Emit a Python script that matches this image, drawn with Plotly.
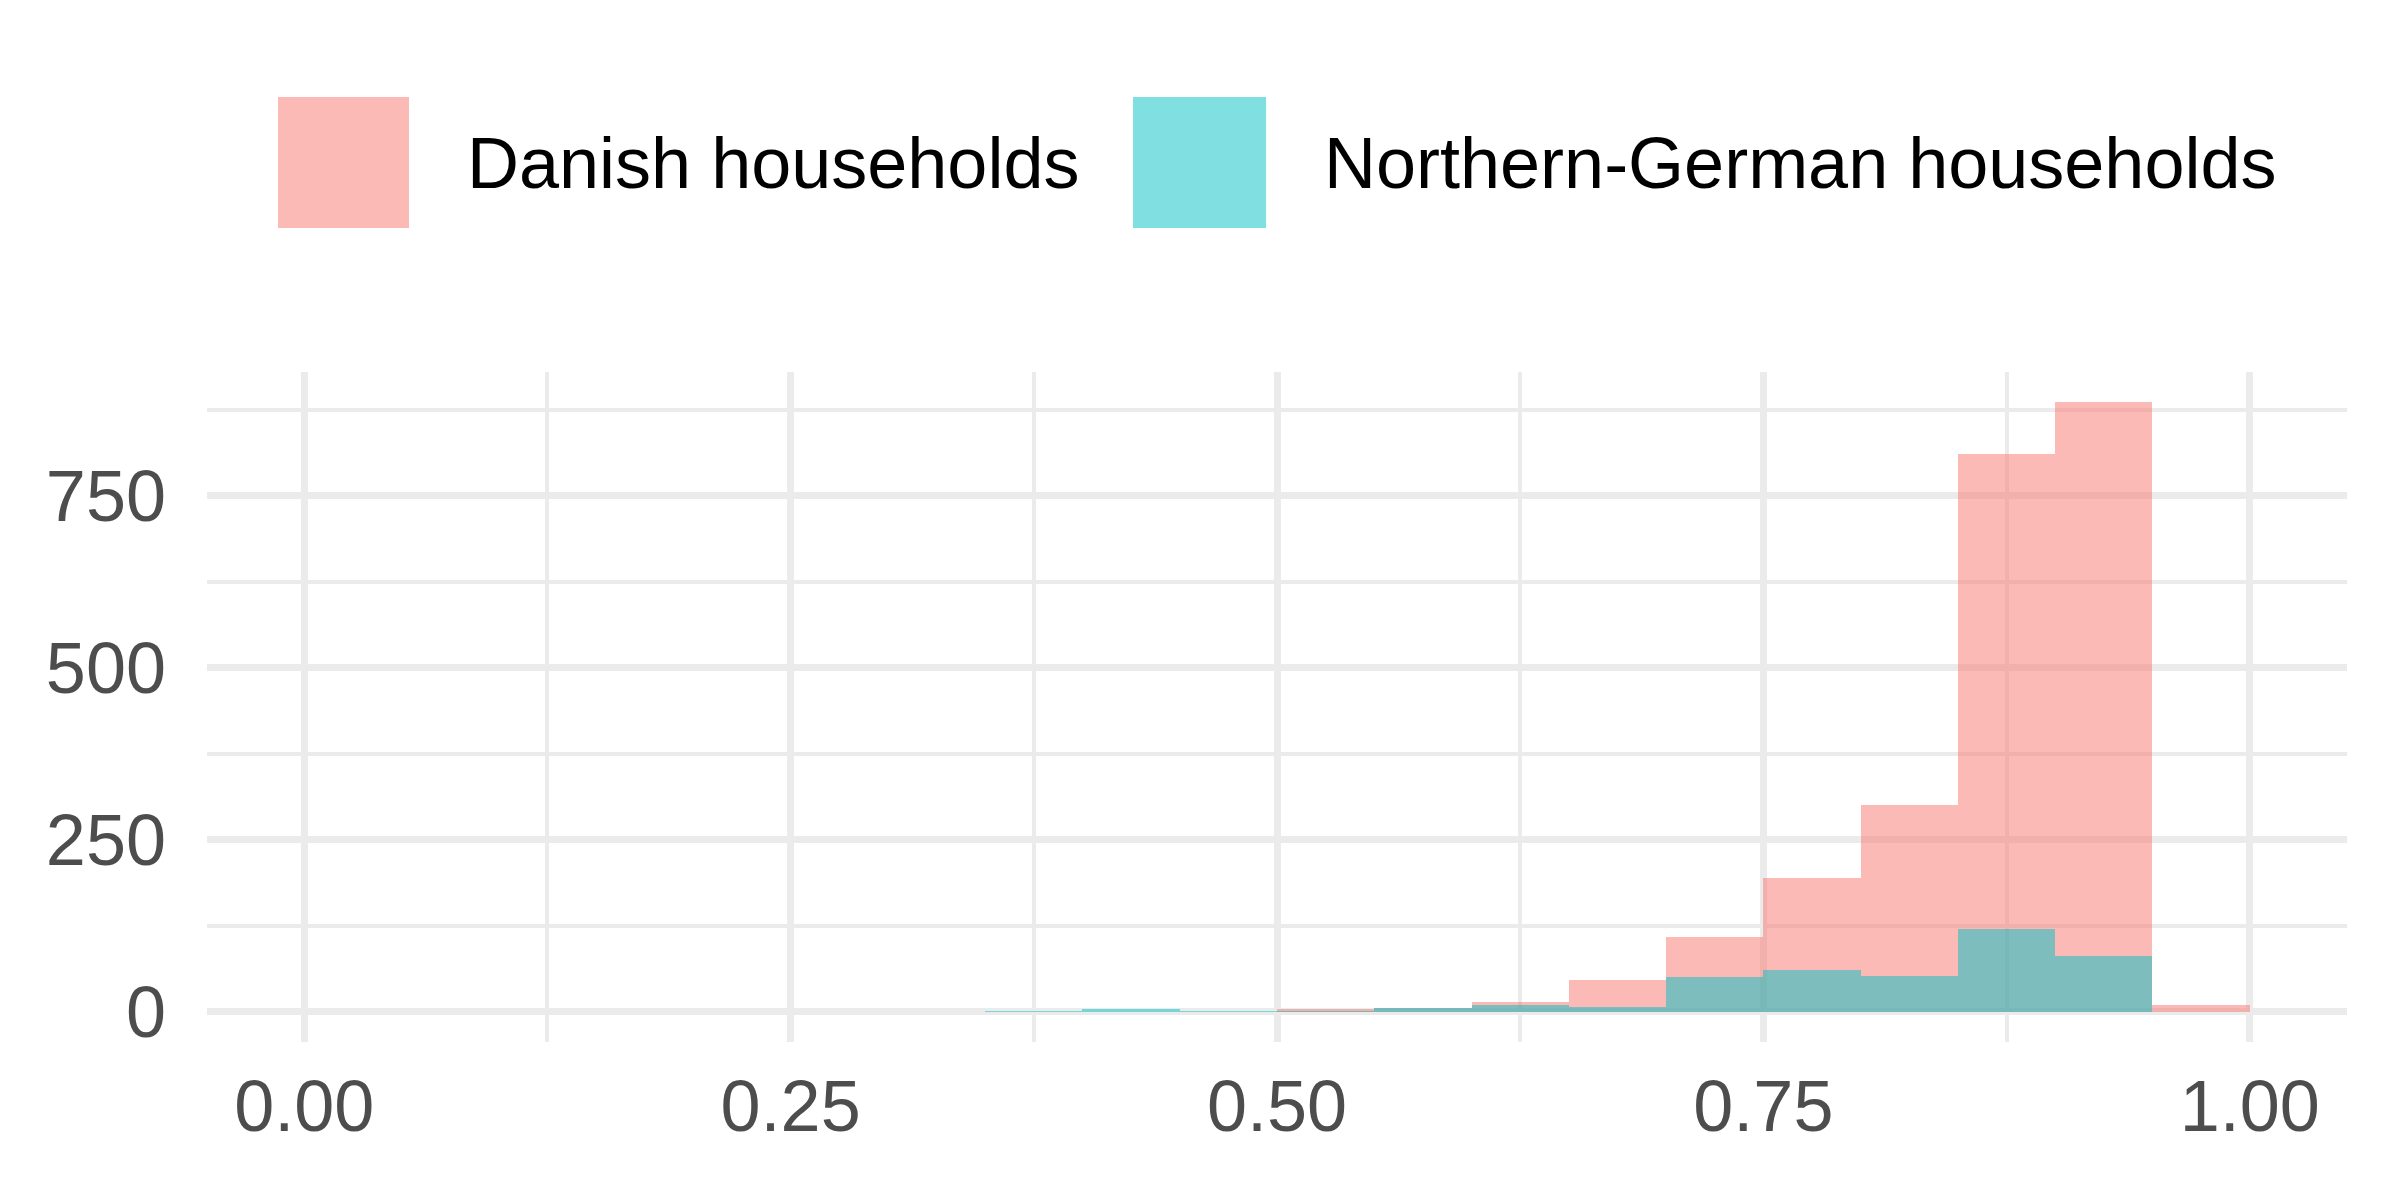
import plotly.graph_objects as go

# ---- data ----
bin_left = [0.35, 0.40, 0.45, 0.50, 0.55, 0.60, 0.65, 0.70, 0.75, 0.80, 0.85, 0.90, 0.95]
bin_width = 0.05
danish = [0, 0, 0, 3, 5, 14, 46, 109, 194, 300, 811, 886, 9]
german = [1, 3, 1, 1, 5, 9, 6, 50, 60, 52, 120, 81, 0]
series_names = ["Danish households", "Northern-German households"]
series_colors = ["rgba(248,118,109,0.5)", "rgba(0,191,196,0.5)"]

x_ticks = [0, 0.25, 0.5, 0.75, 1.0]
x_ticktext = ["0.00", "0.25", "0.50", "0.75", "1.00"]
x_minor = [0.125, 0.375, 0.625, 0.875]
y_ticks = [0, 250, 500, 750]
y_ticktext = ["0", "250", "500", "750"]
y_minor = [125, 375, 625, 875]

FONT = "Liberation Sans, Arial, Helvetica, sans-serif"
GRID = "#EBEBEB"

fig = go.Figure()
for name, vals, col in zip(series_names, [danish, german], series_colors):
    fig.add_trace(go.Bar(
        x=bin_left, y=vals, width=bin_width, offset=0,
        name=name, marker=dict(color=col, line=dict(width=0)),
        showlegend=False,
    ))

# legend drawn manually (large square keys like ggplot)
key_x = [(0.0332, 0.0944), (0.4327, 0.4949)]
text_x = [0.1206, 0.5210]
for (x0, x1), tx, name, col in zip(key_x, text_x, series_names, series_colors):
    fig.add_shape(type="rect", xref="paper", yref="paper",
                  x0=x0, x1=x1, y0=1.2149, y1=1.4104,
                  fillcolor=col, line=dict(width=0), layer="above")
    fig.add_annotation(xref="paper", yref="paper", x=tx, y=1.312,
                       text=name, showarrow=False, xanchor="left", yanchor="middle",
                       font=dict(family=FONT, size=72, color="#000000"))

fig.update_layout(
    width=2392, height=1196,
    margin=dict(l=207, r=45, t=372, b=154, pad=0),
    paper_bgcolor="white", plot_bgcolor="white",
    barmode="overlay", bargap=0,
    showlegend=False,
    font=dict(family=FONT, size=72, color="#4D4D4D"),
)
fig.update_xaxes(
    range=[-0.05, 1.05], tickmode="array", tickvals=x_ticks, ticktext=x_ticktext,
    showgrid=True, gridcolor=GRID, gridwidth=7, zeroline=False, showline=False,
    ticks="", ticklabelstandoff=16,
    tickfont=dict(family=FONT, size=72, color="#4D4D4D"),
    minor=dict(tickmode="array", tickvals=x_minor, showgrid=True, gridcolor=GRID, gridwidth=3.5, ticks=""),
)
fig.update_yaxes(
    range=[-44.3, 930.3], tickmode="array", tickvals=y_ticks, ticktext=y_ticktext,
    showgrid=True, gridcolor=GRID, gridwidth=7, zeroline=False, showline=False,
    ticks="", ticklabelstandoff=40,
    tickfont=dict(family=FONT, size=72, color="#4D4D4D"),
    minor=dict(tickmode="array", tickvals=y_minor, showgrid=True, gridcolor=GRID, gridwidth=3.5, ticks=""),
)

fig.write_html("out.html", config={"displayModeBar": False},
               post_script="document.body.style.margin='0px';")
